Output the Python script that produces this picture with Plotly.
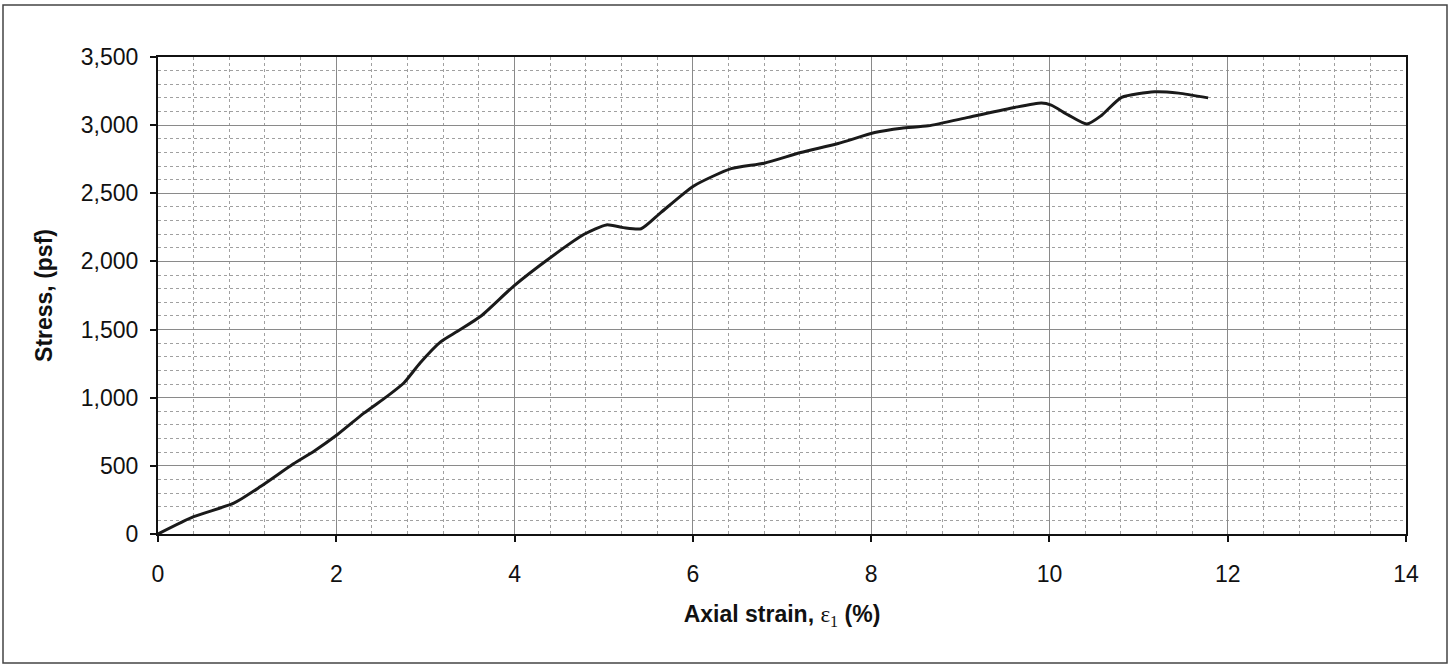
import plotly.graph_objects as go

strain = [0, 0.40, 0.85, 1.15, 1.52, 1.75, 2.01, 2.31, 2.57, 2.76, 2.94, 3.17, 3.36,
          3.62, 3.99, 4.40, 4.78, 5.03, 5.22, 5.42, 5.64, 6.01, 6.43, 6.80, 7.21,
          7.63, 8.04, 8.34, 8.64, 9.09, 9.61, 9.91, 10.02, 10.21, 10.42, 10.58,
          10.81, 11.18, 11.45, 11.78]
stress = [0, 127, 226, 348, 515, 608, 728, 887, 1010, 1110, 1255, 1410, 1488,
          1598, 1819, 2027, 2199, 2268, 2248, 2240, 2358, 2554, 2681, 2721, 2799,
          2865, 2946, 2978, 2995, 3057, 3130, 3162, 3147, 3075, 3008, 3069,
          3204, 3245, 3235, 3200]

x_ticks = [0, 2, 4, 6, 8, 10, 12, 14]
y_ticks = [0, 500, 1000, 1500, 2000, 2500, 3000, 3500]
y_tick_labels = ["0", "500", "1,000", "1,500", "2,000", "2,500", "3,000", "3,500"]

fig = go.Figure()
fig.add_trace(go.Scatter(
    x=strain, y=stress, mode="lines",
    line=dict(color="#1a1a1a", width=3, shape="spline", smoothing=0.6),
    showlegend=False, hoverinfo="skip",
))

tick_font = dict(family="Liberation Sans, Arial, sans-serif", size=23, color="#111")
title_font = dict(family="Liberation Sans, Arial, sans-serif", size=23, color="#111", weight="bold")

fig.update_layout(
    width=1453, height=667,
    margin=dict(l=158, r=47, t=57, b=133),
    paper_bgcolor="white", plot_bgcolor="white",
    xaxis=dict(
        range=[0, 14], tickvals=x_ticks, ticktext=[str(v) for v in x_ticks],
        showline=True, linecolor="#111", linewidth=2, mirror=True,
        ticks="outside", ticklen=6, tickcolor="#111", tickwidth=1.5,
        ticklabelstandoff=12,
        showgrid=True, gridcolor="#8a8a8a", gridwidth=1,
        minor=dict(dtick=0.4, showgrid=True, gridcolor="#a0a0a0", griddash="dot", gridwidth=1, ticks=""),
        zeroline=False, tickfont=tick_font,
        title=dict(text='Axial strain, <span style="font-family:Liberation Serif;font-weight:normal">ε<sub>1</sub></span> (%)',
                   font=title_font, standoff=20),
    ),
    yaxis=dict(
        range=[0, 3500], tickvals=y_ticks, ticktext=y_tick_labels,
        showline=True, linecolor="#111", linewidth=2, mirror=True,
        ticks="outside", ticklen=6, tickcolor="#111", tickwidth=1.5,
        ticklabelstandoff=7,
        showgrid=True, gridcolor="#8a8a8a", gridwidth=1,
        minor=dict(dtick=100, showgrid=True, gridcolor="#a0a0a0", griddash="dot", gridwidth=1, ticks=""),
        zeroline=False, tickfont=tick_font,
        title=dict(text="Stress, (psf)", font=title_font, standoff=22),
    ),
    shapes=[dict(type="rect", xref="paper", yref="paper",
                 x0=(3 - 158) / 1248, x1=(1447 - 158) / 1248,
                 y0=(534 - 663) / 477, y1=(534 - 5) / 477,
                 line=dict(color="#444", width=1.5), layer="below")],
)

fig.write_html("out.html")
